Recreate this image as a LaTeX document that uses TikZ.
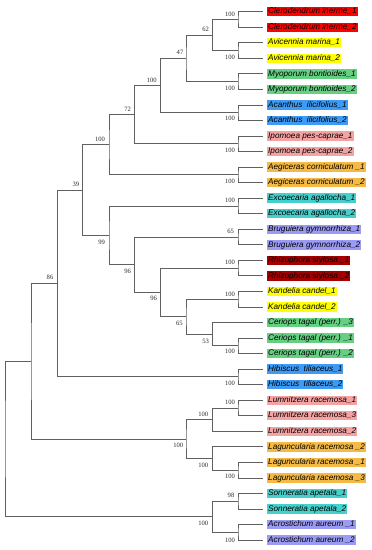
\documentclass[tikz,border=0pt]{standalone}
\usepackage{fontspec}
\setmainfont{Liberation Serif}
\newfontfamily\leaffont{Liberation Sans}
\definecolor{redb}{RGB}{255,0,0}
\definecolor{yelb}{RGB}{255,255,0}
\definecolor{grnb}{RGB}{102,208,130}
\definecolor{blub}{RGB}{61,155,245}
\definecolor{pnkb}{RGB}{244,162,162}
\definecolor{orab}{RGB}{245,186,70}
\definecolor{cyab}{RGB}{70,208,204}
\definecolor{lavb}{RGB}{155,155,245}
\definecolor{drdb}{RGB}{165,0,0}
\definecolor{treeline}{RGB}{96,96,96}
\definecolor{bsv}{RGB}{45,45,45}
\tikzset{
  br/.style={draw=treeline,line width=0.8pt},
  leaflabel/.style={anchor=west,inner xsep=1pt,inner ysep=0.6pt,text height=6.3pt,text depth=1.9pt,
    font=\leaffont\itshape\fontsize{8.2}{9}\selectfont,text=black},
  bs/.style={inner sep=0pt,text=bsv,font=\fontsize{6.6}{7}\selectfont}
}
\begin{document}
\begin{tikzpicture}[x=1pt,y=-1pt]
\useasboundingbox[fill=white] (0,0) rectangle (372,550);
% leaves
\foreach \i/\t/\c in {
 1/{Clerodendrum inerme\_1}/redb,
 2/{Clerodendrum inerme\_2}/redb,
 3/{Avicennia marina\_1}/yelb,
 4/{Avicennia marina\_2}/yelb,
 5/{Myoporum bontioides\_1}/grnb,
 6/{Myoporum bontioides\_2}/grnb,
 7/{Acanthus~~ilicifolius\_1}/blub,
 8/{Acanthus~~ilicifolius\_2}/blub,
 9/{Ipomoea pes-caprae\_1}/pnkb,
 10/{Ipomoea pes-caprae\_2}/pnkb,
 11/{Aegiceras corniculatum \_1}/orab,
 12/{Aegiceras corniculatum \_2}/orab,
 13/{Excoecaria agallocha\_1}/cyab,
 14/{Excoecaria agallocha\_2}/cyab,
 15/{Bruguiera gymnorrhiza\_1}/lavb,
 16/{Bruguiera gymnorrhiza\_2}/lavb,
 17/{Rhizophora stylosa \_1}/drdb,
 18/{Rhizophora stylosa \_2}/drdb,
 19/{Kandelia candel\_1}/yelb,
 20/{Kandelia candel\_2}/yelb,
 21/{Ceriops tagal (perr.) \_3}/grnb,
 22/{Ceriops tagal (perr.) \_1}/grnb,
 23/{Ceriops tagal (perr.) \_2}/grnb,
 24/{Hibiscus~~tiliaceus\_1}/blub,
 25/{Hibiscus~~tiliaceus\_2}/blub,
 26/{Lumnitzera racemosa\_1}/pnkb,
 27/{Lumnitzera racemosa\_3}/pnkb,
 28/{Lumnitzera racemosa\_2}/pnkb,
 29/{Laguncularia racemosa \_2}/orab,
 30/{Laguncularia racemosa \_1}/orab,
 31/{Laguncularia racemosa \_3}/orab,
 32/{Sonneratia apetala\_1}/cyab,
 33/{Sonneratia apetala\_2}/cyab,
 34/{Acrostichum aureum \_1}/lavb,
 35/{Acrostichum aureum \_2}/lavb}{
  \pgfmathsetmacro\yy{11.7+(\i-1)*15.54}
  \coordinate (L\i) at (263,\yy);
  \node[leaflabel,fill=\c] (t\i) at (267,\yy) {\t};
}
% internal nodes
\coordinate (n12) at (238,19.47);
\coordinate (n34) at (238,50.55);
\coordinate (n14) at (212.3,35.01);
\coordinate (n56) at (238,81.63);
\coordinate (n16) at (186,58.32);
\coordinate (n78) at (238,112.71);
\coordinate (n18) at (160.7,85.52);
\coordinate (n910) at (238,143.79);
\coordinate (n110) at (134.7,114.65);
\coordinate (n1112) at (238,174.87);
\coordinate (n112) at (109,144.76);
\coordinate (n1314) at (238,205.95);
\coordinate (n1516) at (238,237.03);
\coordinate (n1718) at (238,268.11);
\coordinate (n1920) at (238,299.19);
\coordinate (n2223) at (238,345.81);
\coordinate (n2123) at (212.3,334.16);
\coordinate (n1923) at (186,316.68);
\coordinate (n1723) at (160.7,292.40);
\coordinate (n1523) at (134.7,264.72);
\coordinate (n1323) at (109,235.34);
\coordinate (n123) at (82.7,190.05);
\coordinate (n2425) at (238,376.89);
\coordinate (n125) at (57.3,283.47);
\coordinate (n2627) at (238,407.97);
\coordinate (n2628) at (212.3,419.63);
\coordinate (n3031) at (238,470.13);
\coordinate (n2931) at (212.3,458.48);
\coordinate (n2631) at (186,439.05);
\coordinate (n131) at (31,361.26);
\coordinate (n3233) at (238,501.21);
\coordinate (n3435) at (238,532.29);
\coordinate (n3235) at (212.3,516.75);
\coordinate (root) at (5,439.0);
% branches
\draw[br] (L1) -| (n12) |- (L2);
\draw[br] (L3) -| (n34) |- (L4);
\draw[br] (n12) -| (n14) |- (n34);
\draw[br] (L5) -| (n56) |- (L6);
\draw[br] (n14) -| (n16) |- (n56);
\draw[br] (L7) -| (n78) |- (L8);
\draw[br] (n16) -| (n18) |- (n78);
\draw[br] (L9) -| (n910) |- (L10);
\draw[br] (n18) -| (n110) |- (n910);
\draw[br] (L11) -| (n1112) |- (L12);
\draw[br] (n110) -| (n112) |- (n1112);
\draw[br] (L13) -| (n1314) |- (L14);
\draw[br] (L15) -| (n1516) |- (L16);
\draw[br] (L17) -| (n1718) |- (L18);
\draw[br] (L19) -| (n1920) |- (L20);
\draw[br] (L22) -| (n2223) |- (L23);
\draw[br] (L21) -| (n2123) |- (n2223);
\draw[br] (n1920) -| (n1923) |- (n2123);
\draw[br] (n1718) -| (n1723) |- (n1923);
\draw[br] (n1516) -| (n1523) |- (n1723);
\draw[br] (n1314) -| (n1323) |- (n1523);
\draw[br] (n112) -| (n123) |- (n1323);
\draw[br] (L24) -| (n2425) |- (L25);
\draw[br] (n123) -| (n125) |- (n2425);
\draw[br] (L26) -| (n2627) |- (L27);
\draw[br] (n2627) -| (n2628) |- (L28);
\draw[br] (L30) -| (n3031) |- (L31);
\draw[br] (L29) -| (n2931) |- (n3031);
\draw[br] (n2628) -| (n2631) |- (n2931);
\draw[br] (n125) -| (n131) |- (n2631);
\draw[br] (L32) -| (n3233) |- (L33);
\draw[br] (L34) -| (n3435) |- (L35);
\draw[br] (n3233) -| (n3235) |- (n3435);
\draw[br] (n131) -| (root) |- (n3235);
% bootstrap values
\node[bs] (b12) at (230,14) {100};
\node[bs] (b14) at (205.7,29.3) {62};
\node[bs] (b34) at (230,57.3) {100};
\node[bs] (b56) at (230,88.3) {100};
\node[bs] (b78) at (230,118.3) {100};
\node[bs] (b16) at (180,52.7) {47};
\node[bs] (b18) at (151.7,80) {100};
\node[bs] (b110) at (127.7,109.3) {72};
\node[bs] (b112) at (100,139.3) {100};
\node[bs] (b910) at (230,150.7) {100};
\node[bs] (b1112) at (230,181.7) {100};
\node[bs] (b1314) at (230,200) {100};
\node[bs] (b1516) at (230.7,231.7) {65};
\node[bs] (b1718) at (230,262.3) {100};
\node[bs] (b123) at (76,184.3) {39};
\node[bs] (b1323) at (101.7,242) {99};
\node[bs] (b1523) at (127.7,271) {96};
\node[bs] (b1723) at (153.7,298.7) {96};
\node[bs] (b1923) at (179.3,323.3) {65};
\node[bs] (b125) at (50,277.7) {86};
\node[bs] (b1920) at (230,294) {100};
\node[bs] (b2123) at (205.7,341) {53};
\node[bs] (b2223) at (230,351.7) {100};
\node[bs] (b2425) at (230,383.3) {100};
\node[bs] (b2627) at (230,402.3) {100};
\node[bs] (b2628) at (203.3,414.3) {100};
\node[bs] (b2631) at (178.3,445.7) {100};
\node[bs] (b2931) at (203.3,465) {100};
\node[bs] (b3031) at (230,476.7) {100};
\node[bs] (b3233) at (231,495.7) {98};
\node[bs] (b3235) at (203.3,523.3) {100};
\node[bs] (b3435) at (230,540) {100};
\end{tikzpicture}
\end{document}
